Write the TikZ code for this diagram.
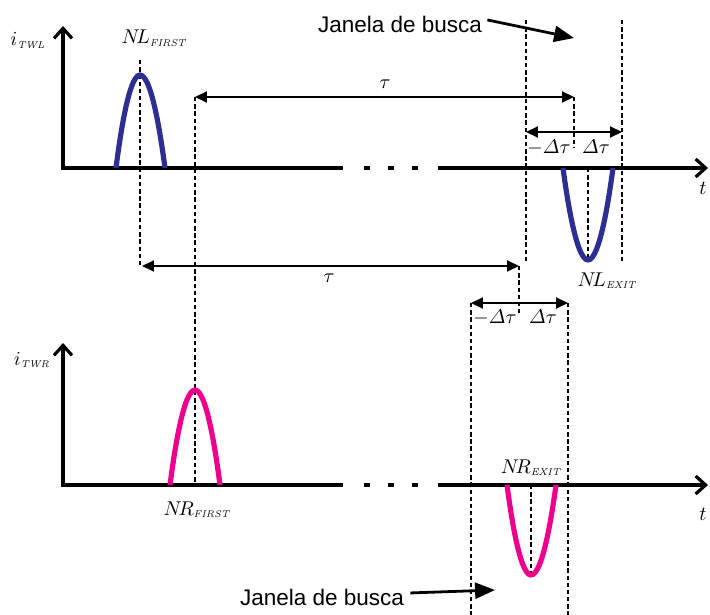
\documentclass[tikz,border=0pt]{standalone}
\usepackage{amsmath}
\usepackage{fontspec}
\newfontfamily\callsans{Liberation Sans}
\usepackage{xcolor}
\usepackage{tikz}
\usetikzlibrary{arrows.meta}
\definecolor{pulseblue}{RGB}{44,46,146}
\definecolor{pulsepink}{RGB}{236,0,140}
\newcommand{\dtau}{\varDelta\tau}
\newcommand{\lowtag}[1]{_{\scriptscriptstyle\mathit{#1}}}

\begin{document}
\begin{tikzpicture}[x=0.5bp,y=-0.5bp,
  axisline/.style={line width=1.6pt},
  axistip/.style={-{Straight Barb[length=5pt,width=9pt]}},
  axisbase/.style={{Straight Barb[length=5pt,width=9pt]}-},
  guide/.style={line width=0.8pt,dash pattern=on 2.2pt off 1.4pt},
  span/.style={line width=1pt,{Triangle[length=6pt,width=5.5pt]}-{Triangle[length=6pt,width=5.5pt]}},
  pulse/.style={line width=2.6pt},
  pointer/.style={line width=1.4pt,-{Triangle[length=10pt,width=8pt]}},
  callout/.style={font=\fontsize{11.3}{13}\selectfont\callsans,anchor=base,inner sep=0pt},
  tag/.style={anchor=base,inner sep=0pt}]
  \useasboundingbox (0,0) rectangle (710,615);
  % two time axes with the gap dots
  \foreach \y in {168,485}{
     \draw[axisline,axisbase] (63,\y-142) -- (63,\y) -- (343,\y);
     \draw[axisline,axistip] (438,\y) -- (708,\y);
     \foreach \x in {367,391,415}
        \draw[axisline] (\x-3,\y) -- (\x+3,\y);
  }
  % pulse peaks and dimension ends
  \coordinate (nlfirst) at (140,75);
  \coordinate (nrfirst) at (195,390);
  \coordinate (nlexit) at (588,260);
  \coordinate (nrexit) at (531,575);
  \coordinate (tauAs) at (195,97);   \coordinate (tauAe) at (574,97);
  \coordinate (tauBs) at (142,266);  \coordinate (tauBe) at (519,266);
  \coordinate (winAl) at (526,132);  \coordinate (winAr) at (622,132);
  \coordinate (winBl) at (471,303);  \coordinate (winBr) at (568,303);
  % guide lines
  \draw[guide] (140,60) -- (nlfirst) -- (140,266) -- (tauBs);
  \draw[guide] (tauAs) -- (nrfirst) -- (195,485);
  \draw[guide] (tauAe) -- (574,148);
  \draw[guide] (526,20) -- (winAl) -- (526,262);
  \draw[guide] (622,20) -- (winAr) -- (622,262);
  \draw[guide] (588,168) -- (nlexit);
  \draw[guide] (tauBe) -- (519,313);
  \draw[guide] (winBl) -- (471,615);
  \draw[guide] (winBr) -- (568,615);
  \draw[guide] (531,485) -- (nrexit);
  % pulses
  \draw[pulse,pulseblue] (116,168) parabola bend (nlfirst) (165,168);
  \draw[pulse,pulseblue] (563,168) parabola bend (nlexit) (613,168);
  \draw[pulse,pulsepink] (170,485) parabola bend (nrfirst) (220,485);
  \draw[pulse,pulsepink] (507,485) parabola bend (nrexit) (556,485);
  % spans
  \draw[span] (tauAs) -- (tauAe);
  \draw[span] (tauBs) -- (tauBe);
  \draw[span] (winAl) -- (winAr);
  \draw[span] (winBl) -- (winBr);
  % labels
  \node[tag] (itwl) at (28,46) {$i\lowtag{TWL}$};
  \node[tag] (itwr) at (32,365) {$i\lowtag{TWR}$};
  \node[tag] (nlfirsttag) at (154,44) {$N\!L\lowtag{FIRST}$};
  \node[tag] (nrfirsttag) at (197,515) {$N\!R\lowtag{FIRST}$};
  \node[tag] (nlexittag) at (607,286) {$N\!L\lowtag{EXIT}$};
  \node[tag] (nrexittag) at (531,473) {$N\!R\lowtag{EXIT}$};
  \node[tag] (tauA) at (385,89) {$\tau$};
  \node[tag] (tauB) at (329,283) {$\tau$};
  \node[tag] (winAminus) at (549,154) {$-\dtau$};
  \node[tag] (winAplus) at (596,154) {$\dtau$};
  \node[tag] (winBminus) at (495,323) {$-\dtau$};
  \node[tag] (winBplus) at (543,323) {$\dtau$};
  \node[tag] (ttop) at (703,195) {$t$};
  \node[tag] (tbot) at (703,520) {$t$};
  \node[callout] (janelaA) at (400,33) {Janela de busca};
  \node[callout] (janelaB) at (322,605) {Janela de busca};
  \coordinate (janelaAtip) at (574,38);
  \coordinate (janelaBtip) at (495,590);
  \draw[pointer] (janelaA.east) ++(5,-5) -- (janelaAtip);
  \draw[pointer] (janelaB.east) ++(6,-4) -- (janelaBtip);
\end{tikzpicture}
\end{document}
